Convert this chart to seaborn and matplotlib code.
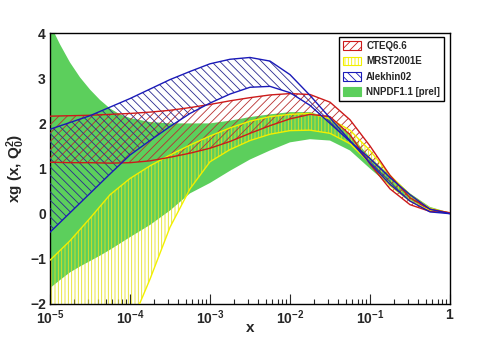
import matplotlib
matplotlib.use("Agg")
import matplotlib.pyplot as plt
import matplotlib.ticker as mticker
from matplotlib.patches import Patch
import seaborn as sns

sns.set_theme(style="ticks")
plt.rcParams['font.family'] = ['Liberation Sans', 'DejaVu Sans']
plt.rcParams['mathtext.fontset'] = 'custom'
plt.rcParams['mathtext.rm'] = 'Liberation Sans:bold'
plt.rcParams['mathtext.bf'] = 'Liberation Sans:bold'
plt.rcParams['mathtext.it'] = 'Liberation Sans:bold'
plt.rcParams['mathtext.default'] = 'bf'
plt.rcParams['hatch.linewidth'] = 0.6

# x grid (quarter decades from 1e-5 to 1)
x = [1e-5, 1.778e-5, 3.162e-5, 5.623e-5, 1e-4, 1.778e-4, 3.162e-4, 5.623e-4,
     1e-3, 1.778e-3, 3.162e-3, 5.623e-3, 1e-2, 1.778e-2, 3.162e-2, 5.623e-2,
     1e-1, 1.778e-1, 3.162e-1, 5.623e-1, 1.0]

cteq_hi = [2.16, 2.17, 2.18, 2.20, 2.22, 2.25, 2.29, 2.35, 2.42, 2.50, 2.57,
           2.63, 2.66, 2.64, 2.47, 2.08, 1.50, 0.85, 0.35, 0.10, 0.02]
cteq_lo = [1.14, 1.13, 1.13, 1.12, 1.13, 1.17, 1.25, 1.34, 1.45, 1.60, 1.78,
           1.95, 2.10, 2.20, 2.15, 1.75, 1.10, 0.55, 0.20, 0.05, 0.02]

mrst_hi = [-1.03, -0.60, -0.10, 0.42, 0.78, 1.06, 1.30, 1.52, 1.72, 1.90, 2.05,
           2.15, 2.20, 2.22, 2.10, 1.85, 1.40, 0.85, 0.42, 0.12, 0.01]
mrst_lo = [-6.9, -5.8, -4.7, -3.6, -2.5, -1.45, -0.30, 0.55, 1.15, 1.42, 1.62,
           1.76, 1.84, 1.85, 1.78, 1.55, 1.12, 0.62, 0.28, 0.07, 0.01]

alek_hi = [1.87, 2.02, 2.17, 2.36, 2.55, 2.76, 2.97, 3.15, 3.32, 3.42, 3.46,
           3.38, 3.08, 2.62, 2.12, 1.62, 1.12, 0.65, 0.28, 0.04, 0.0]
alek_lo = [-0.41, 0.02, 0.45, 0.88, 1.30, 1.62, 1.93, 2.22, 2.45, 2.65, 2.80,
           2.82, 2.68, 2.40, 2.00, 1.60, 1.22, 0.80, 0.42, 0.10, 0.0]

# NNPDF has a finer grid at small x (steep rise of the upper edge)
nnpdf_x = [1e-5, 1.334e-5, 1.778e-5, 2.371e-5, 3.162e-5, 4.217e-5, 5.623e-5, 7.499e-5,
           1e-4, 1.778e-4, 3.162e-4, 5.623e-4, 1e-3, 1.778e-3, 3.162e-3, 5.623e-3,
           1e-2, 1.778e-2, 3.162e-2, 5.623e-2, 1e-1, 1.778e-1, 3.162e-1, 5.623e-1, 1.0]
nnpdf_hi = [4.2, 3.75, 3.35, 3.02, 2.75, 2.52, 2.33, 2.20, 2.12, 2.03, 2.00, 2.00,
            2.00, 2.06, 2.14, 2.20, 2.25, 2.25, 2.12, 1.75, 1.25, 0.85, 0.45, 0.15, 0.02]
nnpdf_lo = [-1.65, -1.47, -1.30, -1.17, -1.05, -0.93, -0.80, -0.66, -0.52, -0.25, 0.07,
            0.45, 0.68, 0.95, 1.20, 1.40, 1.58, 1.65, 1.62, 1.40, 1.00, 0.62, 0.30, 0.08, 0.01]

labels = ['CTEQ6.6', 'MRST2001E', 'Alekhin02', 'NNPDF1.1 [prel]']
xticks = [1e-5, 1e-4, 1e-3, 1e-2, 1e-1, 1]
xticklabels = ['$10^{-5}$', '$10^{-4}$', '$10^{-3}$', '$10^{-2}$', '$10^{-1}$', '$1$']

green = '#5ccf5c'
red = '#cc1a1a'
yellow = '#f2f000'
blue = '#1a1ab8'

fig = plt.figure(figsize=(5, 3.38), dpi=100)
ax = fig.add_axes([0.1, 0.1006, 0.8, 0.8015])
ax.set_xscale('log')

ax.fill_between(nnpdf_x, nnpdf_lo, nnpdf_hi, facecolor=green, edgecolor='none', lw=0, zorder=1)
ax.fill_between(x, mrst_lo, mrst_hi, facecolor='none', edgecolor='#e6e020', hatch='|||||', lw=0, zorder=2)
ax.fill_between(x, cteq_lo, cteq_hi, facecolor='none', edgecolor='#b83030', hatch='////', lw=0, zorder=3)
ax.fill_between(x, alek_lo, alek_hi, facecolor='none', edgecolor='#2a2a90', hatch='\\\\\\\\', lw=0, zorder=4)

for lo, hi, c in [(mrst_lo, mrst_hi, yellow), (cteq_lo, cteq_hi, red), (alek_lo, alek_hi, blue)]:
    sns.lineplot(x=x, y=lo, color=c, lw=1.0, ax=ax, estimator=None, sort=False, zorder=5)
    sns.lineplot(x=x, y=hi, color=c, lw=1.0, ax=ax, estimator=None, sort=False, zorder=5)

ax.set_xlim(1e-5, 1)
ax.set_ylim(-2, 4)
ax.set_xticks(xticks)
ax.set_xticklabels(xticklabels)
ax.xaxis.set_minor_locator(mticker.LogLocator(base=10, subs=range(2, 10), numticks=20))
ax.xaxis.set_minor_formatter(mticker.NullFormatter())
ax.set_yticks([-2, -1, 0, 1, 2, 3, 4])
ax.tick_params(axis='both', which='both', direction='in', top=False, right=False,
               labelsize=10, width=0.8)
ax.tick_params(axis='x', which='major', length=7, pad=3)
ax.tick_params(axis='x', which='minor', length=3.5)
ax.tick_params(axis='y', which='major', length=4, pad=3)
for lab in ax.get_yticklabels() + ax.get_xticklabels():
    lab.set_fontweight('bold')
for s in ax.spines.values():
    s.set_linewidth(1.0)
    s.set_color('black')

ax.set_xlabel('x', fontsize=11, fontweight='bold', labelpad=-4)
ax.set_ylabel('xg (x, Q$_0^2$)', fontsize=11, fontweight='bold', labelpad=2)

handles = [
    Patch(facecolor='white', edgecolor=red, hatch='////', lw=0.8),
    Patch(facecolor='white', edgecolor=yellow, hatch='|||||', lw=0.8),
    Patch(facecolor='white', edgecolor=blue, hatch='\\\\\\\\', lw=0.8),
    Patch(facecolor=green, edgecolor=green, lw=0.8),
]
leg = ax.legend(handles, labels, loc='upper right', bbox_to_anchor=(0.985, 0.985),
                borderaxespad=0, fancybox=False, frameon=True, edgecolor='black',
                prop={'size': 7, 'weight': 'bold'}, handlelength=1.9, handleheight=1.0,
                labelspacing=0.55, borderpad=0.4, handletextpad=0.5)
leg.get_frame().set_linewidth(1.0)
leg.get_frame().set_alpha(1)
leg.set_zorder(10)

plt.savefig('out.png', dpi=100)
